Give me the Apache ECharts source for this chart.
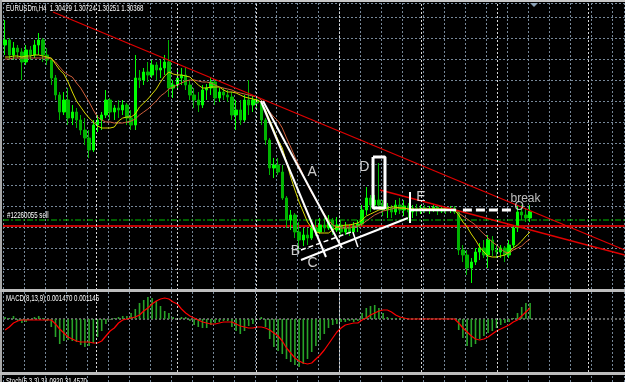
<!DOCTYPE html>
<html><head><meta charset="utf-8">
<script src="https://cdn.jsdelivr.net/npm/echarts@6/dist/echarts.min.js"></script>
<style>html,body{margin:0;padding:0;background:#000;}#c{width:625px;height:382px;}</style>
</head><body><div id="c"></div><script>
// ---- price bars (chart points; 21 points per grid cell) ----
const opens = [245,250,235,242,238,228,240,235,245,250, 235,230,212,195,178,190,172,178,170,160,
 152,140,165,170,175,190,178,182,180,185, 172,165,212,210,218,215,225,220,222,228,
 202,205,212,215,205,195,190,185,200,202, 208,192,198,195,193,175,180,170,190,185,
 190,187,170,150,122,125,118,92,70,75, 58,50,55,52,62,58,65,62,70,60,
 65,58,62,58,64,66,80,92,85,90, 85,80,82,78,85,80,84,78,82,79,
 82,80,81,83,79,81,80,82,78,40, 35,22,28,38,42,35,50,40,38,42, 35,45,62,78,75,72];
const closes = [250,235,242,238,228,240,235,245,250,235, 230,212,195,178,190,172,178,170,160,152,
 140,165,170,175,190,178,182,180,185,172, 165,212,210,218,215,225,220,222,228,202,
 205,212,215,205,195,190,185,200,202,208, 192,198,195,193,175,180,170,190,185,190,
 187,170,150,122,125,118,92,70,75,58, 50,55,52,62,58,65,62,70,60,65,
 58,62,58,64,66,80,92,85,90,85, 80,82,78,85,80,84,78,82,79,82,
 80,81,83,79,81,80,82,78,40,35, 22,28,38,42,35,50,40,38,42,35, 45,62,78,75,72,78];
const lows = [235,230,230,232,210,225,230,232,235,228, 225,205,190,170,175,165,165,162,155,145,
 132,138,158,160,172,170,170,172,175,165, 160,160,202,205,208,212,210,212,215,193,
 192,200,205,200,190,182,178,182,190,195, 185,188,190,188,170,160,165,168,175,178,
 180,165,145,115,112,115,90,62,60,52, 40,44,45,50,54,56,58,60,55,58,
 54,55,54,56,58,64,75,78,80,83, 74,72,72,75,76,74,72,72,74,76,
 77,76,78,75,77,76,77,76,35,28, 15,7,25,30,32,22,34,32,32,28, 32,42,58,70,68,68];
const highs = [270,252,248,245,242,245,244,250,257,252, 242,232,215,198,198,202,185,182,175,172,
 160,170,175,178,200,192,185,190,190,187, 180,235,220,222,228,230,228,230,235,250,
 210,220,222,223,210,202,198,205,206,213, 210,202,202,200,198,190,190,195,210,194,
 192,190,172,152,132,132,125,94,80,77, 68,62,62,66,70,72,72,75,72,73,
 70,68,66,68,70,85,103,95,95,127, 90,87,85,90,92,90,87,85,86,85,
 85,84,85,84,84,83,84,84,80,45, 40,32,42,47,50,55,54,45,45,44, 50,65,85,85,82,85];
const maFast = [233,233,234,234,233,234,234,235,235,234, 233,232,226,220,216,208,198,189,183,177,
 172,168,164,162,162,162,163,169,172,173, 173,176,183,187,191,196,201,208,214,218,
 216,215,215,214,213,209,205,202,202,203, 203,203,200,198,198,197,195,193,192,191,
 190,188,180,170,160,150,142,128,113,100, 88,78,68,62,58,57,57,57,60,63,
 64,65,65,66,67,70,74,76,78,80, 81,82,83,83,82,82,81,81,80,81,
 81,81,81,81,81,81,81,80,75,68, 63,56,50,43,38,34,33,33,34,35, 38,42,45,49,54,58];
const maSlow = [231,231,232,232,232,232,232,232,232,232, 232,231,228,223,218,215,213,207,202,195,
 188,180,173,170,168,168,167,167,167,168, 169,171,175,178,181,185,189,194,197,201,
 203,205,207,209,210,210,209,208,208,207, 205,203,202,201,200,198,197,196,195,194,
 193,190,184,178,173,169,162,152,143,133, 124,115,105,97,90,83,76,70,65,63,
 62,62,62,63,64,66,69,72,75,77, 79,80,81,82,82,82,81,81,81,81,
 81,81,81,81,81,81,81,81,77,74, 71,68,65,60,56,52,48,45,41,38, 37,40,42,44,48,51];
// ---- MACD(8,13,9) ----
const macdHist = [2,1,3,-2,-4,-3,-1,2,3,1, -2,-8,-18,-25,-22,-21,-22,-23,-26,-28,
 -27,-24,-18,-12,-5,-1,1,2,3,3, 6,10,16,19,22,21,18,13,8,6,
 2,1,2,2,-2,-6,-8,-9,-9,-6, -4,-3,-2,-2,-8,-12,-15,-12,-7,-5,
 -1,2,-8,-20,-28,-32,-35,-40,-43,-46, -48,-45,-40,-33,-27,-21,-15,-9,-6,-5,
 -3,-3,-2,-3,-2,6,11,13,14,11, 6,2,1,1,1,1,0.5,0.5,1,0.5,
 0.5,1,0.5,0.5,1,0.5,0.5,0.5,-11,-19, -27,-28,-25,-20,-17,-14,-12,-9,-6,-4, -3,1,6,12,16,16];
const macdSignal = [-11,-8,-4,-2,-1,-1,-1,-1,-1,-1, -1,-1,-5,-10,-14,-18,-20,-22,-23,-23,
 -23,-24,-24,-22,-17,-12,-9,-4,-1,0, 1,2,4,8,11,15,18,20,21,20,
 17,15,10,6,3,1,-1,-3,-4,-5, -5,-4,-3,-3,-3,-5,-7,-8,-9,-9,
 -8,-8,-9,-11,-14,-17,-22,-29,-34,-39, -42,-44,-45,-44,-40,-36,-31,-25,-19,-13,
 -9,-6,-5,-4,-4,-1,1,4,6,8, 9,9,7,4,2,1,0,0,0,0,
 0,0,0,0,0,0,0,0,-4,-9, -13,-17,-20,-21,-20,-18,-15,-12,-10,-8, -6,-3,-1,3,7,11];
// ---- drawn objects (bar index, points) ----
const trendRed1 = [[11.4,278],[147.5,40]];
const trendRed2 = [[89.3,100],[147.5,35]];
const levelRed = 64, levelSell = 70;
const lineA1 = [[60.9,189],[76.4,33]];
const lineA2 = [[61.4,189],[80.2,42]];
const lineB = [[70.45,40],[82.4,58]];
const tickB = [[82.8,58],[84.0,43]];
const lineC = [[70.45,30],[95.9,72]];
const tickE = [[96.4,98],[96.4,67]];
const lineE = [[96.4,80],[107.4,80]];
const lineBreak = [[109.0,80],[121.2,80]];
const boxD = [[87.6,133],[90.45,133],[90.45,82],[87.6,82],[87.6,133]];
const separators = [21.6,40.9,59.7,79.5,99.0,117.1,138.8];
const letterLabels = [['A',73.1,118],['B',69.1,39],['C',73.2,27],['D',85.5,122.5],['E',99.0,93]];
const breakLabels = [['break',123.9,91],['O',122.4,83]];

const N_SLOTS = 148;
const slots = []; for (let i = 0; i < N_SLOTS; i++) slots.push('b' + i);

const gridLine = {show:true, lineStyle:{color:'#778899', width:1, type:[2,2]}};
const sepStyle = {color:'#d8d8d8', width:1, type:[2,2]};
const smallFont = "'Liberation Sans','DejaVu Sans',sans-serif";

function seg(data, color, width, type, z) {
  return {type:'line', xAxisIndex:1, yAxisIndex:0, data, symbol:'none', silent:true,
    lineStyle:{color, width, type: type || 'solid'}, z: z || 5, animation:false};
}
function smallText(txt, x, y) {
  return {type:'text', x, y, scaleX:0.72, z:100, style:{text:txt, fill:'#ffffff', font:"8.5px "+smallFont}};
}

const chart = echarts.init(document.getElementById('c'));
chart.setOption({
  backgroundColor:'#000000',
  animation:false,
  grid:[
    {left:3, top:3, width:621.6, height:287},
    {left:3, top:292, width:621.6, height:80},
    {left:3, top:376, width:621.6, height:10}
  ],
  xAxis:[
    {type:'category', gridIndex:0, data:slots, boundaryGap:true, axisLine:{show:false}, axisTick:{show:false}, axisLabel:{show:false}, splitLine:Object.assign({interval:4}, gridLine)},
    {type:'value', gridIndex:0, min:-0.5, max:N_SLOTS-0.5, show:false, splitLine:{show:false}},
    {type:'category', gridIndex:1, data:slots, boundaryGap:true, axisLine:{show:false}, axisTick:{show:false}, axisLabel:{show:false}, splitLine:Object.assign({interval:4}, gridLine)},
    {type:'value', gridIndex:1, min:-0.5, max:N_SLOTS-0.5, show:false, splitLine:{show:false}},
    {type:'category', gridIndex:2, data:slots, boundaryGap:true, axisLine:{show:false}, axisTick:{show:false}, axisLabel:{show:false}, splitLine:Object.assign({interval:4}, gridLine)}
  ],
  yAxis:[
    {type:'value', gridIndex:0, min:0, max:287, interval:21, axisLine:{show:false}, axisTick:{show:false}, axisLabel:{show:false}, splitLine:gridLine},
    {type:'value', gridIndex:1, min:-53, max:27, axisLine:{show:false}, axisTick:{show:false}, axisLabel:{show:false}, splitLine:{show:false}},
    {type:'value', gridIndex:2, min:0, max:100, show:false, splitLine:{show:false}}
  ],
  series:[
    {type:'candlestick', xAxisIndex:0, yAxisIndex:0, barWidth:3, silent:true,
     data: opens.map((o,i)=>[o, closes[i], lows[i], highs[i]]),
     itemStyle:{color:'#00ff00', color0:'#00b400', borderColor:'#00ff00', borderColor0:'#00b400', borderWidth:1}, z:2},
    {type:'line', xAxisIndex:0, yAxisIndex:0, data:maSlow, symbol:'none', silent:true, lineStyle:{color:'#d0603c', width:1}, z:3},
    {type:'line', xAxisIndex:0, yAxisIndex:0, data:maFast, symbol:'none', silent:true, lineStyle:{color:'#d8d800', width:1}, z:3},
    Object.assign(seg([[-0.5,levelRed],[N_SLOTS-0.5,levelRed]], '#ff0000', 1.5), {
      markLine:{silent:true, symbol:['none','none'], label:{show:false}, lineStyle:sepStyle,
        data: separators.map(s=>({xAxis:s}))}, z:1}),
    seg([[-0.5,levelSell],[N_SLOTS-0.5,levelSell]], '#00c000', 1, [6,2,2,2], 1),
    seg(trendRed1, '#e00000', 1.3, 'solid', 4),
    seg(trendRed2, '#e00000', 1.3, 'solid', 4),
    seg(lineA1, '#ffffff', 2),
    seg(lineA2, '#ffffff', 2),
    seg(lineB, '#ffffff', 1.5, [5,3]),
    seg(tickB, '#ffffff', 1.5),
    seg(lineC, '#ffffff', 2),
    seg(tickE, '#ffffff', 2),
    seg(lineE, '#ffffff', 2.5),
    seg(lineBreak, '#ffffff', 3, [9,4]),
    seg(boxD, '#ffffff', 3),
    {type:'scatter', xAxisIndex:1, yAxisIndex:0, symbolSize:0, silent:true, z:6,
     data: letterLabels.map(l=>({value:[l[1],l[2]], label:{show:true, formatter:l[0]}})),
     label:{show:true, position:'inside', color:'#ffffff', fontSize:14, fontFamily:'Liberation Sans'}},
    {type:'scatter', xAxisIndex:1, yAxisIndex:0, symbolSize:0, silent:true, z:6,
     data: breakLabels.map(l=>({value:[l[1],l[2]], label:{show:true, formatter:l[0]}})),
     label:{show:true, position:'inside', color:'#e8e8e8', fontSize:12, fontFamily:'Liberation Sans'}},
    // MACD
    {type:'bar', xAxisIndex:2, yAxisIndex:1, data:macdHist, barWidth:1.6, silent:true, itemStyle:{color:'#28a428'}, z:2},
    {type:'line', xAxisIndex:2, yAxisIndex:1, data:macdSignal, symbol:'none', silent:true, lineStyle:{color:'#ff0000', width:1.2}, z:3},
    {type:'line', xAxisIndex:3, yAxisIndex:1, data:[[-0.5,0],[N_SLOTS-0.5,0]], symbol:'none', silent:true,
     lineStyle:{color:'#c8c8c8', width:1, type:[2,2]}, z:1,
     markLine:{silent:true, symbol:['none','none'], label:{show:false}, lineStyle:sepStyle, data: separators.map(s=>({xAxis:s}))}}
  ],
  graphic:[
    {type:'rect', shape:{x:0,y:0,width:625,height:2}, style:{fill:'#c8c8c8'}, z:100},
    {type:'rect', shape:{x:0,y:0,width:2,height:382}, style:{fill:'#a8a8a8'}, z:100},
    {type:'rect', shape:{x:0,y:289,width:625,height:3}, style:{fill:'#bdbdbd'}, z:100},
    {type:'rect', shape:{x:0,y:372,width:625,height:3}, style:{fill:'#bdbdbd'}, z:100},
    {type:'polygon', shape:{points:[[530,3],[538,3],[534,7]]}, style:{fill:'#8aa0b4'}, z:100},
    smallText('EURUSDm,H4  1.30429 1.30724 1.30251 1.30368', 6, 4),
    smallText('#12260055 sell', 7, 211),
    smallText('MACD(8,13,9) 0.001470 0.001145', 6, 294),
    smallText('Stoch(5,3,3) 31.0920 31.4570', 6, 377)
  ]
});
</script></body></html>
